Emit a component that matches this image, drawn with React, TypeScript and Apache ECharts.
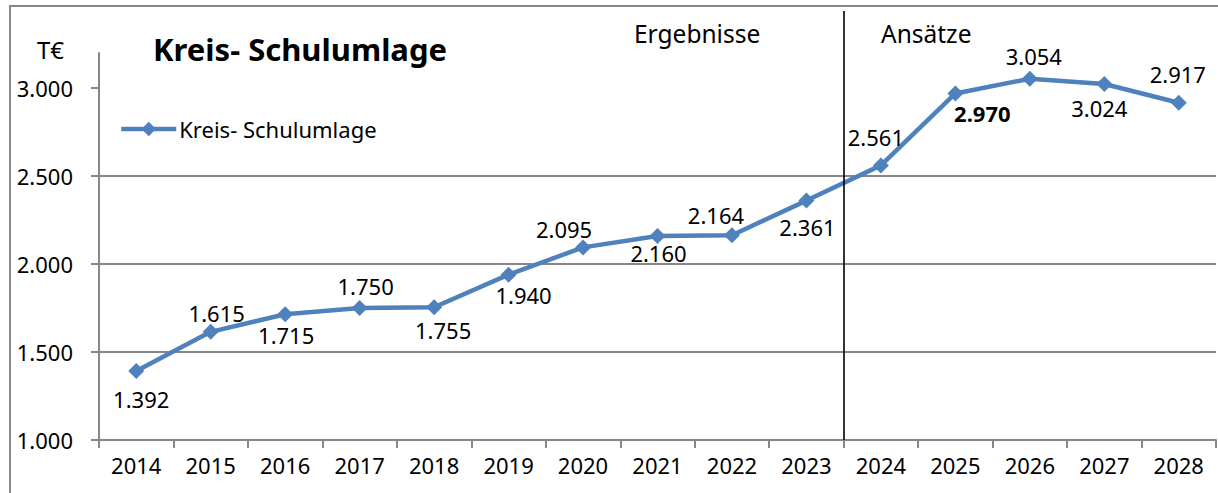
import React, { useEffect, useRef } from "react";
import * as echarts from "echarts";

const years = ["2014", "2015", "2016", "2017", "2018", "2019", "2020", "2021", "2022", "2023", "2024", "2025", "2026", "2027", "2028"];
const values = [1392, 1615, 1715, 1750, 1755, 1940, 2095, 2160, 2164, 2361, 2561, 2970, 3054, 3024, 2917];
const yTicks = [1000, 1500, 2000, 2500, 3000];
const boldIndices = [11];
const seriesName = "Kreis- Schulumlage";
const titleText = "Kreis- Schulumlage";
const unitText = "T€";
const pastText = "Ergebnisse";
const futureText = "Ansätze";
const splitAfterIndex = 9;

// label offsets [dx, dy] relative to each point (layout only)
const labelOffsets: [number, number][] = [
  [5, 28], [6, -19], [1, 21], [6, -22], [9, 23], [15, 20], [-19, -18], [1, 17],
  [-16, -20], [1, 26], [-5, -28], [27, 20], [4, -23], [-5, 24], [-1, -29],
];

const FONT = "'Noto Sans', 'DejaVu Sans', sans-serif";
const BLUE = "#4F81BD";
const GRAY = "#878787";

const fmt = (v: number) => {
  const th = Math.floor(v / 1000);
  const rest = String(v % 1000).padStart(3, "0");
  return th > 0 ? `${th}.${rest}` : String(v);
};

export default function App() {
  const ref = useRef<HTMLDivElement>(null);
  useEffect(() => {
    if (!ref.current) return;
    const chart = echarts.init(ref.current, null, { renderer: "svg" });
    chart.setOption({
      animation: false,
      backgroundColor: "#ffffff",
      textStyle: { fontFamily: FONT },
      grid: { left: 99, right: 2, top: 53, bottom: 53, containLabel: false },
      legend: {
        show: true,
        left: 114,
        top: 113,
        itemWidth: 55,
        itemHeight: 18,
        itemGap: 10,
        lineStyle: { width: 4.5 },
        textStyle: { fontFamily: FONT, fontSize: 22, color: "#000", padding: [0, 0, 0, -2] },
        data: [seriesName],
      },
      xAxis: {
        type: "category",
        data: years,
        boundaryGap: true,
        axisLine: { lineStyle: { color: GRAY, width: 2 } },
        axisTick: { show: true, length: 8, lineStyle: { color: GRAY, width: 2 } },
        axisLabel: { fontFamily: FONT, fontSize: 22, color: "#000", margin: 14 },
        splitLine: { show: false },
      },
      yAxis: {
        type: "value",
        min: 1000,
        max: 3200,
        interval: 500,
        axisLine: { show: true, lineStyle: { color: GRAY, width: 2 } },
        axisTick: { show: true, length: 8, lineStyle: { color: GRAY, width: 2 }, customValues: yTicks },
        axisLabel: {
          fontFamily: FONT, fontSize: 22, color: "#000", margin: 26,
          customValues: yTicks,
          formatter: (v: number) => (yTicks.includes(v) ? fmt(v) : ""),
        },
        splitLine: { show: true, showMaxLine: false, lineStyle: { color: GRAY, width: 2 } },
      },
      series: [
        {
          name: seriesName,
          type: "line",
          data: values.map((v, i) => ({
            value: v,
            label: {
              offset: labelOffsets[i],
              fontWeight: boldIndices.includes(i) ? "bold" : "normal",
            },
          })),
          symbol: "diamond",
          symbolSize: 16,
          itemStyle: { color: BLUE },
          lineStyle: { color: BLUE, width: 4.5 },
          label: {
            show: true,
            position: "inside",
            fontFamily: FONT,
            fontSize: 22,
            color: "#000",
            formatter: (p: any) => fmt(p.value),
          },
        },
      ],
    });

    const xa = chart.convertToPixel({ xAxisIndex: 0 }, splitAfterIndex) as number;
    const xb = chart.convertToPixel({ xAxisIndex: 0 }, splitAfterIndex + 1) as number;
    const xDiv = Math.round((xa + xb) / 2);
    const yBottom = chart.convertToPixel({ yAxisIndex: 0 }, 1000) as number;

    chart.setOption({
      graphic: [
        {
          type: "rect",
          shape: { x: 10, y: 6, width: 1230, height: 520 },
          style: { fill: "none", stroke: GRAY, lineWidth: 2 },
          silent: true,
          z: 100,
        },
        {
          type: "line",
          shape: { x1: xDiv, y1: 11, x2: xDiv, y2: yBottom },
          style: { stroke: "#000", lineWidth: 1.6 },
          silent: true,
          z: 50,
        },
        {
          type: "text",
          x: 153, y: 49,
          style: { text: titleText, font: `bold 31px ${FONT}`, fill: "#000", textVerticalAlign: "middle" },
        },
        {
          type: "text",
          x: 37, y: 49,
          style: { text: unitText, font: `24px ${FONT}`, fill: "#000", textVerticalAlign: "middle" },
        },
        {
          type: "text",
          x: 634, y: 33,
          style: { text: pastText, font: `24.5px ${FONT}`, fill: "#000", textVerticalAlign: "middle" },
        },
        {
          type: "text",
          x: 881, y: 33,
          style: { text: futureText, font: `24.5px ${FONT}`, fill: "#000", textVerticalAlign: "middle" },
        },
      ],
    });

    return () => chart.dispose();
  }, []);
  return (
    <div
      ref={ref}
      style={{ position: "fixed", left: 0, top: 0, width: 1218, height: 493, background: "#fff" }}
    />
  );
}
